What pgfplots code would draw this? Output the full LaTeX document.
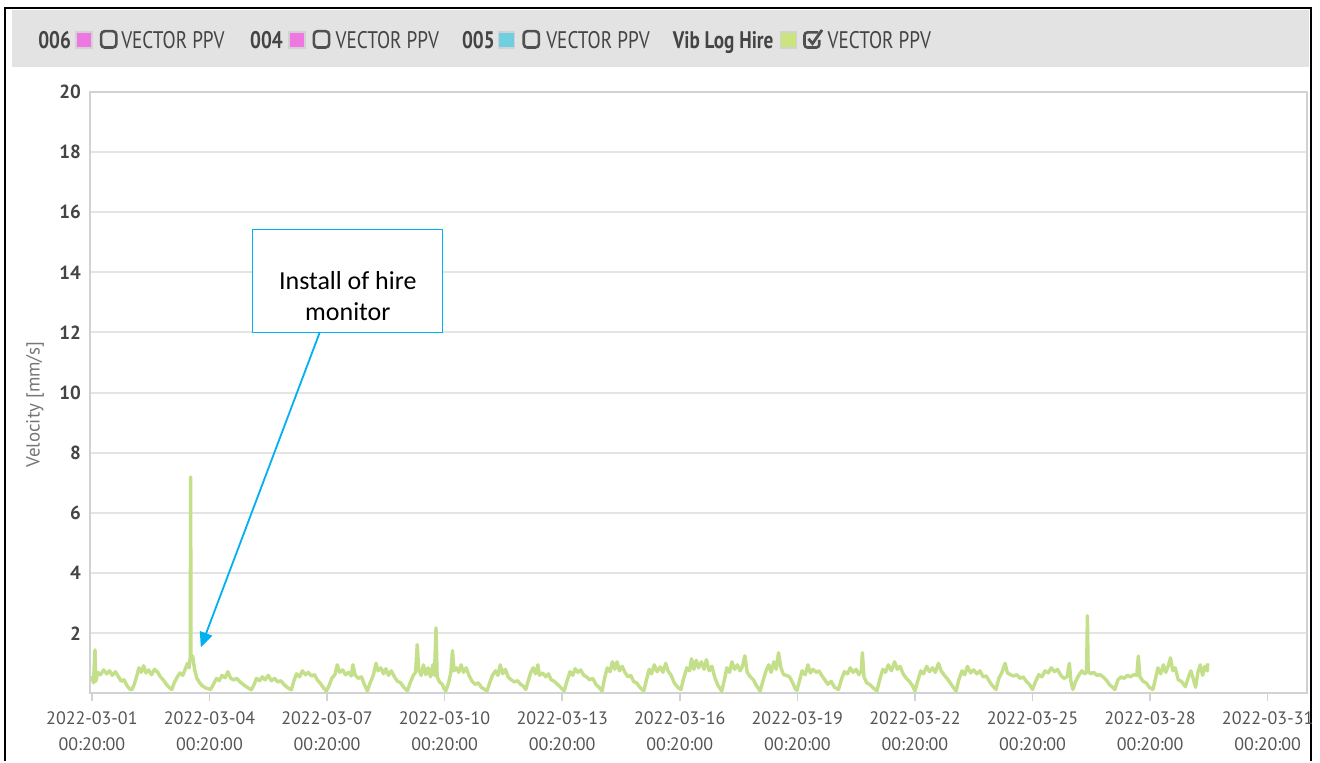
\documentclass[border=0pt]{standalone}
\usepackage{fontspec}
\setmainfont{PT Sans}
\newfontfamily\calfont{Carlito}
\usepackage{graphicx}
\usepackage{pgfplots}
\pgfplotsset{compat=1.18}
\usetikzlibrary{arrows.meta}
\definecolor{hdrbg}{HTML}{E3E3E3}
\definecolor{gridc}{HTML}{E4E4E4}
\definecolor{axisc}{HTML}{D2D2D2}
\definecolor{ytc}{HTML}{444444}
\definecolor{xtc}{HTML}{555555}
\definecolor{ylc}{HTML}{777777}
\definecolor{linec}{HTML}{C4DF8A}
\definecolor{annc}{HTML}{00B0F0}
\definecolor{magc}{HTML}{EE77E2}
\definecolor{cyanc}{HTML}{6FCFE0}
\definecolor{grnc}{HTML}{CCE47E}
\definecolor{boxc}{HTML}{505050}
\definecolor{htc}{HTML}{444444}
\newcommand{\hs}[1]{\scalebox{0.8}[1]{#1}}
\begin{document}
\begin{tikzpicture}[x=1pt,y=1pt]
\fill[white] (0,0) rectangle (660,381);
\fill[hdrbg] (6,347.5) rectangle (655,376);
\draw[black, line width=1pt] (2.5,0) -- (2.5,377.2) -- (656,377.2) -- (656,0);
% header legend
\tikzset{hdrtxt/.style={anchor=base west, inner sep=0pt, text=htc, font=\fontsize{12}{14}\selectfont}}
\tikzset{sq/.style={draw=axisc, line width=0.8pt}}
\tikzset{cb/.style={draw=boxc, line width=1.3pt, rounded corners=1.8pt}}
% 006
\node[hdrtxt] at (19,356.5) {\hs{\bfseries 006}};
\fill[magc] (38,357) rectangle (46,365); \draw[sq] (38,357) rectangle (46,365);
\draw[cb] (50.6,357.2) rectangle (58.2,365.4);
\node[hdrtxt] at (60.5,356.5) {\hs{VECTOR PPV}};
% 004
\node[hdrtxt] at (125,356.5) {\hs{\bfseries 004}};
\fill[magc] (144.5,357) rectangle (152.5,365); \draw[sq] (144.5,357) rectangle (152.5,365);
\draw[cb] (157.1,357.2) rectangle (164.7,365.4);
\node[hdrtxt] at (167.8,356.5) {\hs{VECTOR PPV}};
% 005
\node[hdrtxt] at (231,356.5) {\hs{\bfseries 005}};
\fill[cyanc] (249.5,357) rectangle (257.5,365); \draw[sq] (249.5,357) rectangle (257.5,365);
\draw[cb] (262.1,357.2) rectangle (269.7,365.4);
\node[hdrtxt] at (273.2,356.5) {\hs{VECTOR PPV}};
% Vib Log Hire
\node[hdrtxt] at (336.5,356.5) {\hs{\bfseries Vib Log Hire}};
\fill[grnc] (390.5,357) rectangle (398.5,365); \draw[sq] (390.5,357) rectangle (398.5,365);
\draw[draw=boxc, line width=1.3pt, rounded corners=1.5pt] (409.5,364.8) -- (402.6,364.8) -- (402.6,357.2) -- (410,357.2) -- (410,361);
\draw[draw=boxc, line width=1.4pt] (404.6,361.6) -- (406.6,359.2) -- (411.4,366);
\node[hdrtxt] at (414,356.5) {\hs{VECTOR PPV}};
% y label
\node[rotate=90, text=ylc, font=\fontsize{9.5}{11}\selectfont] at (17.5,178.5) {Velocity [mm/s]};
\begin{axis}[
  at={(45pt,34pt)}, anchor=south west, scale only axis,
  width=609pt, height=301pt,
  xmin=-0.05, xmax=31, ymin=0, ymax=20,
  axis line style={draw=axisc, line width=1pt},
  ymajorgrids, grid style={draw=gridc, line width=1pt},
  ytick={2,4,...,20},
  xtick={0,3,...,30},
  xticklabels={{2022-03-01\\00:20:00},{2022-03-04\\00:20:00},{2022-03-07\\00:20:00},{2022-03-10\\00:20:00},{2022-03-13\\00:20:00},{2022-03-16\\00:20:00},{2022-03-19\\00:20:00},{2022-03-22\\00:20:00},{2022-03-25\\00:20:00},{2022-03-28\\00:20:00},{2022-03-31\\00:20:00}},
  xticklabel style={align=center, text=xtc, font=\fontsize{9}{13}\selectfont, yshift=-1.5pt},
  yticklabel style={text=ytc, font=\fontsize{9.5}{11}\selectfont\bfseries, xshift=-1pt},
  /pgf/number format/assume math mode=true,
  x tick style={draw=axisc, line width=0.8pt}, xtick align=outside, xtick pos=bottom,
  major tick length=4pt,
  ytick style={draw=none},
]
\addplot[linec, line width=1.7pt, line join=round] coordinates {
(0.0,0.58)(0.04,0.35)(0.08,1.45)(0.1,0.4)(0.15,0.7)(0.22,0.62)(0.3,0.78)(0.38,0.65)(0.45,0.75)(0.52,0.6)(0.6,0.72)(0.68,0.55)(0.75,0.4)(0.82,0.45)(0.9,0.25)(0.96,0.15)
(1.02,0.12)(1.08,0.3)(1.14,0.55)(1.2,0.85)(1.26,0.7)(1.32,0.92)(1.38,0.68)(1.45,0.78)(1.52,0.62)(1.6,0.8)(1.68,0.7)(1.75,0.55)(1.82,0.45)(1.9,0.3)(1.97,0.2)
(2.04,0.13)(2.1,0.35)(2.18,0.55)(2.25,0.68)(2.32,0.6)(2.38,0.8)(2.44,1.0)(2.48,0.85)(2.51,1.2)(2.52,7.2)(2.53,1.1)(2.57,1.25)(2.62,0.8)(2.68,0.5)(2.75,0.35)(2.82,0.25)(2.9,0.18)(2.97,0.15)
(3.03,0.13)(3.1,0.3)(3.18,0.5)(3.25,0.42)(3.32,0.6)(3.4,0.52)(3.47,0.72)(3.54,0.5)(3.62,0.45)(3.7,0.5)(3.78,0.38)(3.86,0.3)(3.94,0.22)
(4.07,0.12)(4.14,0.3)(4.2,0.5)(4.28,0.42)(4.35,0.55)(4.42,0.45)(4.5,0.6)(4.58,0.42)(4.66,0.5)(4.74,0.38)(4.82,0.42)(4.9,0.3)(4.98,0.2)
(5.09,0.12)(5.15,0.4)(5.22,0.65)(5.3,0.55)(5.37,0.75)(5.45,0.62)(5.52,0.7)(5.6,0.58)(5.68,0.62)(5.75,0.45)(5.82,0.35)(5.9,0.2)
(5.98,0.08)(6.05,0.25)(6.12,0.5)(6.2,0.62)(6.26,0.95)(6.32,0.7)(6.4,0.78)(6.47,0.62)(6.55,0.7)(6.62,0.58)(6.66,0.95)(6.72,0.6)(6.8,0.5)(6.88,0.55)(6.95,0.3)
(7.03,0.08)(7.1,0.35)(7.18,0.6)(7.25,1.0)(7.3,0.75)(7.37,0.85)(7.44,0.65)(7.5,0.82)(7.57,0.6)(7.64,0.75)(7.72,0.55)(7.8,0.4)(7.88,0.35)(7.96,0.2)
(8.05,0.08)(8.12,0.35)(8.2,0.6)(8.26,0.7)(8.3,1.62)(8.34,0.8)(8.4,0.6)(8.46,0.95)(8.52,0.62)(8.58,0.85)(8.64,0.55)(8.7,0.95)(8.74,0.6)(8.78,2.18)(8.81,0.55)(8.87,0.38)(8.94,0.3)(8.99,0.15)
(9.03,0.08)(9.1,0.35)(9.16,0.7)(9.2,1.42)(9.24,0.75)(9.3,0.85)(9.36,0.7)(9.42,0.95)(9.48,0.7)(9.55,0.85)(9.62,0.6)(9.7,0.4)(9.78,0.3)(9.86,0.35)(9.94,0.2)
(10.08,0.08)(10.15,0.35)(10.22,0.6)(10.3,0.75)(10.36,0.6)(10.42,0.95)(10.48,0.65)(10.55,0.8)(10.62,0.55)(10.7,0.45)(10.78,0.38)(10.86,0.42)(10.94,0.3)(11.0,0.25)
(11.07,0.13)(11.14,0.45)(11.2,0.7)(11.26,0.85)(11.32,0.65)(11.38,0.95)(11.42,0.6)(11.5,0.68)(11.58,0.55)(11.65,0.65)(11.72,0.45)(11.8,0.4)(11.88,0.3)(11.96,0.2)
(12.05,0.08)(12.12,0.4)(12.2,0.72)(12.27,0.6)(12.33,0.82)(12.4,0.7)(12.47,0.78)(12.55,0.6)(12.62,0.55)(12.7,0.45)(12.78,0.5)(12.86,0.3)(12.94,0.2)
(13.02,0.08)(13.08,0.5)(13.15,0.85)(13.22,0.72)(13.28,1.05)(13.34,0.8)(13.4,1.05)(13.46,0.75)(13.53,0.9)(13.6,0.7)(13.68,0.55)(13.75,0.6)(13.82,0.4)(13.9,0.35)(13.98,0.2)
(14.08,0.08)(14.15,0.45)(14.22,0.8)(14.28,0.65)(14.35,0.95)(14.42,0.72)(14.5,0.88)(14.57,0.7)(14.64,1.0)(14.7,0.75)(14.78,0.6)(14.86,0.35)(14.95,0.2)
(15.03,0.13)(15.1,0.5)(15.18,0.85)(15.25,0.75)(15.3,1.15)(15.36,0.8)(15.42,1.1)(15.48,0.85)(15.55,1.05)(15.62,0.8)(15.68,1.12)(15.75,0.75)(15.82,0.9)(15.9,0.5)(15.98,0.25)
(16.07,0.08)(16.14,0.45)(16.2,0.85)(16.27,0.7)(16.33,1.05)(16.4,0.8)(16.47,0.95)(16.54,0.75)(16.6,0.9)(16.66,1.25)(16.72,0.7)(16.8,0.55)(16.88,0.45)(16.96,0.25)
(17.05,0.08)(17.12,0.4)(17.2,0.75)(17.27,0.95)(17.33,0.7)(17.4,1.05)(17.46,0.8)(17.52,1.35)(17.58,0.85)(17.65,0.62)(17.72,0.6)(17.8,0.55)(17.88,0.35)(17.95,0.15)
(17.99,0.1)(18.06,0.45)(18.12,0.75)(18.2,0.62)(18.27,0.95)(18.33,0.68)(18.4,0.8)(18.48,0.7)(18.55,0.75)(18.62,0.6)(18.7,0.45)(18.78,0.3)(18.86,0.4)(18.95,0.2)
(19.05,0.13)(19.12,0.45)(19.2,0.72)(19.28,0.65)(19.35,0.85)(19.42,0.7)(19.5,0.8)(19.57,0.62)(19.63,0.75)(19.66,1.35)(19.7,0.55)(19.77,0.35)(19.84,0.3)(19.92,0.2)
(20.03,0.08)(20.1,0.45)(20.18,0.8)(20.25,0.7)(20.32,0.95)(20.4,0.75)(20.48,1.05)(20.55,0.8)(20.62,0.9)(20.7,0.65)(20.78,0.5)(20.86,0.4)(20.94,0.25)
(21.0,0.08)(21.08,0.45)(21.15,0.75)(21.22,0.65)(21.3,0.9)(21.37,0.72)(21.45,0.85)(21.52,0.7)(21.6,1.0)(21.67,0.75)(21.75,0.6)(21.82,0.5)(21.9,0.35)(21.98,0.2)
(22.05,0.08)(22.12,0.45)(22.2,0.75)(22.27,0.62)(22.34,0.9)(22.42,0.68)(22.5,0.78)(22.58,0.65)(22.66,0.75)(22.74,0.55)(22.82,0.58)(22.9,0.4)(22.98,0.25)
(23.07,0.13)(23.14,0.5)(23.22,0.7)(23.3,1.0)(23.36,0.68)(23.44,0.62)(23.52,0.58)(23.6,0.62)(23.68,0.5)(23.76,0.55)(23.84,0.4)(23.92,0.3)
(24.0,0.13)(24.08,0.4)(24.16,0.62)(24.24,0.55)(24.32,0.75)(24.4,0.68)(24.48,0.85)(24.56,0.72)(24.64,0.8)(24.72,0.6)(24.8,0.5)(24.88,0.55)(24.94,1.0)(24.98,0.4)
(25.03,0.13)(25.1,0.4)(25.18,0.6)(25.26,0.75)(25.33,0.65)(25.38,0.7)(25.4,2.58)(25.42,0.75)(25.48,0.65)(25.56,0.7)(25.64,0.6)(25.72,0.62)(25.8,0.55)(25.88,0.45)(25.96,0.3)
(26.1,0.13)(26.18,0.45)(26.26,0.55)(26.34,0.5)(26.42,0.6)(26.5,0.55)(26.58,0.62)(26.66,0.6)(26.7,1.24)(26.74,0.55)(26.82,0.4)(26.9,0.35)(26.98,0.2)
(27.07,0.13)(27.14,0.5)(27.2,0.85)(27.27,0.65)(27.34,0.95)(27.4,0.7)(27.46,0.9)(27.52,1.18)(27.58,0.75)(27.64,0.85)(27.72,0.45)(27.8,0.4)(27.9,0.22)
(27.98,0.55)(28.04,0.75)(28.1,0.5)(28.16,0.2)(28.22,0.7)(28.28,0.95)(28.34,0.6)(28.4,0.9)(28.46,0.75)(28.47,1.0)
};
\draw[annc, line width=0.6pt, fill=white] (axis cs:4.1,11.99) rectangle (axis cs:8.95,15.42);
\node[font=\calfont\fontsize{13}{15.5}\selectfont, align=center, text=black] at (axis cs:6.53,13.22) {Install of hire\\monitor};
\draw[annc, line width=0.9pt, -{Triangle[length=7.5pt,width=6.5pt]}] (axis cs:5.81,11.99) -- (axis cs:2.78,1.53);
\end{axis}
\end{tikzpicture}
\end{document}
